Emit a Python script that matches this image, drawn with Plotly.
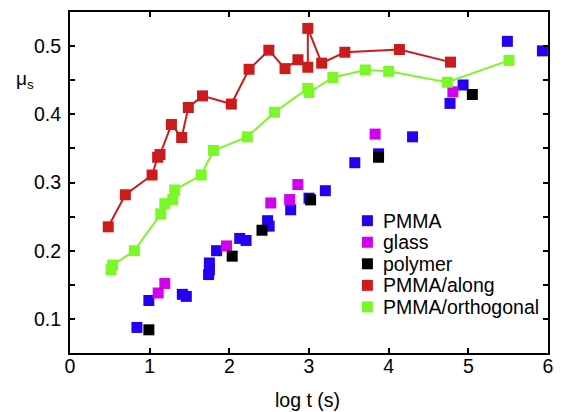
import plotly.graph_objects as go

# ---- data (log t in s, static friction coefficient) ----
pmma_x = [0.84, 0.99, 1.41, 1.46, 1.74, 1.75, 1.75, 1.84, 2.13, 2.21, 2.48, 2.50, 2.77, 3.00, 3.205, 3.575, 3.873, 4.30, 4.77, 4.934, 5.49, 5.93]
pmma_y = [0.0875, 0.127, 0.136, 0.133, 0.165, 0.172, 0.182, 0.200, 0.218, 0.215, 0.244, 0.236, 0.260, 0.277, 0.288, 0.329, 0.342, 0.367, 0.416, 0.443, 0.507, 0.493]

glass_x = [1.107, 1.19, 1.965, 2.52, 2.757, 2.86, 3.83, 4.806]
glass_y = [0.138, 0.152, 0.207, 0.270, 0.275, 0.297, 0.371, 0.433]

polymer_x = [0.99, 2.036, 2.41, 3.02, 3.873, 5.05]
polymer_y = [0.084, 0.192, 0.230, 0.2745, 0.337, 0.429]

along_x = [0.48, 0.695, 1.03, 1.10, 1.13, 1.273, 1.402, 1.485, 1.663, 2.025, 2.248, 2.496, 2.699, 2.861, 2.985, 2.985, 3.159, 3.45, 4.135, 4.776]
along_y = [0.235, 0.282, 0.311, 0.337, 0.341, 0.385, 0.366, 0.410, 0.427, 0.415, 0.466, 0.494, 0.467, 0.480, 0.469, 0.526, 0.475, 0.491, 0.495, 0.4765]

orth_x = [0.515, 0.535, 0.808, 1.14, 1.19, 1.29, 1.315, 1.647, 1.80, 2.226, 2.567, 2.985, 3.0, 3.30, 3.707, 4.0, 4.735, 5.51]
orth_y = [0.172, 0.179, 0.200, 0.254, 0.269, 0.275, 0.289, 0.311, 0.347, 0.367, 0.403, 0.438, 0.432, 0.454, 0.465, 0.463, 0.447, 0.479]

series_names = ["PMMA", "glass", "polymer", "PMMA/along", "PMMA/orthogonal"]

x_ticks = [0, 1, 2, 3, 4, 5, 6]
y_ticks = [0.1, 0.2, 0.3, 0.4, 0.5]
y_ticktext = ["0.1", "0.2", "0.3", "0.4", "0.5"]

C_BLUE = "#2400f2"
C_MAG = "#d100ee"
C_BLACK = "#000000"
C_RED = "#cc1b1d"
C_GREEN = "#7cf829"
colors = [C_BLUE, C_MAG, C_BLACK, C_RED, C_GREEN]

FONT = "Liberation Sans, Arial, sans-serif"
MS = 11

fig = go.Figure()

def pts(x, y, color, name):
    fig.add_trace(go.Scatter(x=x, y=y, mode="markers", name=name, showlegend=False,
                             marker=dict(symbol="square", size=MS, color=color, line=dict(width=0))))

pts(pmma_x, pmma_y, C_BLUE, series_names[0])
pts(glass_x, glass_y, C_MAG, series_names[1])
pts(polymer_x, polymer_y, C_BLACK, series_names[2])

for x, y, c, n in [(along_x, along_y, C_RED, series_names[3]), (orth_x, orth_y, C_GREEN, series_names[4])]:
    fig.add_trace(go.Scatter(x=x, y=y, mode="lines+markers", name=n, showlegend=False,
                             line=dict(color=c, width=2),
                             marker=dict(symbol="square", size=MS, color=c, line=dict(width=0))))

axis_common = dict(showgrid=False, zeroline=False, showline=True, linecolor="black", linewidth=2,
                   mirror="ticks", ticks="inside", ticklen=5, tickwidth=1.5, tickcolor="black",
                   tickfont=dict(family=FONT, size=19.5, color="black"))

fig.update_xaxes(range=[0, 6], tickvals=x_ticks, ticklabelstandoff=-5, **axis_common)
fig.update_yaxes(range=[0.05, 0.55], tickvals=y_ticks, ticktext=y_ticktext, ticklabelstandoff=3,
                 minor=dict(tickvals=[0.15, 0.25, 0.35, 0.45], ticks="inside", ticklen=5,
                            tickwidth=1.5, tickcolor="black", showgrid=False),
                 **axis_common)

fig.add_annotation(text="log t (s)", xref="paper", yref="paper", x=0.497, y=-0.137,
                   xanchor="center", yanchor="middle", showarrow=False,
                   font=dict(family=FONT, size=19.5, color="black"))
fig.add_annotation(text="μ<sub>s</sub>", xref="paper", yref="paper", x=-0.094, y=0.80,
                   xanchor="center", yanchor="middle", showarrow=False,
                   font=dict(family=FONT, size=19, color="black"))

# manual legend (compact row spacing as in the reference)
leg_sym_x = 0.6222
leg_txt_x = 0.650
leg_top = 0.388
leg_step = 0.0632
for i, (n, c) in enumerate(zip(series_names, colors)):
    yy = leg_top - i * leg_step
    fig.add_shape(type="rect", xref="paper", yref="paper", xsizemode="pixel", ysizemode="pixel",
                  xanchor=leg_sym_x, yanchor=yy, x0=-5.5, x1=5.5, y0=-5.5, y1=5.5,
                  fillcolor=c, line=dict(width=0))
    fig.add_annotation(text=n, xref="paper", yref="paper", x=leg_txt_x, y=yy,
                       xanchor="left", yanchor="middle", showarrow=False,
                       font=dict(family=FONT, size=19.5, color="black"))

fig.update_layout(
    width=563, height=412,
    margin=dict(l=70, r=10, t=11, b=59),
    paper_bgcolor="white", plot_bgcolor="white",
    showlegend=False,
)

fig.write_html("out.html")
